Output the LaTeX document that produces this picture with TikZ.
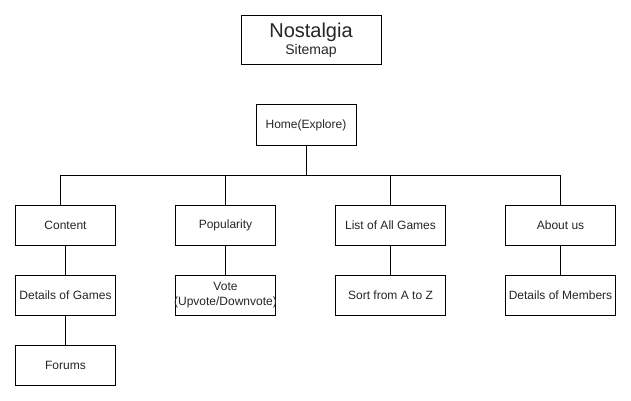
\documentclass[tikz,border=0pt]{standalone}
\usepackage{fontspec}
\setmainfont{Liberation Sans}
\begin{document}
\begin{tikzpicture}[x=1pt,y=-1pt,
  box/.style={draw=black,line width=1pt,fill=white,inner sep=0pt,align=center,
    font=\fontsize{12}{15}\selectfont,text=black!85},
  conn/.style={draw=black,line width=1pt}]
\useasboundingbox (0,0) rectangle (631,401);
\node[box,minimum width=140pt,minimum height=49pt] (title) at (311,40.5)
  {{\fontsize{20}{22}\selectfont Nostalgia}\\[2pt]{\fontsize{14}{16}\selectfont Sitemap}};
\node[box,minimum width=100pt,minimum height=40pt] (home) at (306,125) {Home(Explore)};
\node[box,minimum width=100pt,minimum height=40pt] (content) at (65.5,225) {Content};
\node[box,minimum width=100pt,minimum height=40pt] (pop) at (225.5,225) {Popularity};
\node[box,minimum width=110pt,minimum height=40pt] (list) at (390.5,225) {List of All Games};
\node[box,minimum width=110pt,minimum height=40pt] (about) at (560.5,225) {About us};
\node[box,minimum width=100pt,minimum height=40pt] (details) at (65.5,295) {Details of Games};
\node[box,minimum width=100pt,minimum height=40pt] (vote) at (225.5,295) {};
\node[inner sep=0pt,align=center,font=\fontsize{12}{15}\selectfont,text=black!85] (votetext) at (225.5,295) {Vote\\(Upvote/Downvote)};
\node[box,minimum width=110pt,minimum height=40pt] (sort) at (390.5,295) {Sort from A to Z};
\node[box,minimum width=110pt,minimum height=40pt] (members) at (560.5,295) {Details of Members};
\node[box,minimum width=100pt,minimum height=40pt] (forums) at (65.5,365) {Forums};
\coordinate (bus) at (306,175);
\coordinate (cdrop) at ([xshift=-5pt]content.north);
\draw[conn] (home.south) -- (bus);
\draw[conn] (cdrop) |- (bus);
\draw[conn] (about.north) |- (bus);
\draw[conn] (pop.north) -- (pop.north |- bus);
\draw[conn] (list.north) -- (list.north |- bus);
\draw[conn] (content) -- (details);
\draw[conn] (details) -- (forums);
\draw[conn] (pop) -- (vote);
\draw[conn] (list) -- (sort);
\draw[conn] (about) -- (members);
\end{tikzpicture}
\end{document}
